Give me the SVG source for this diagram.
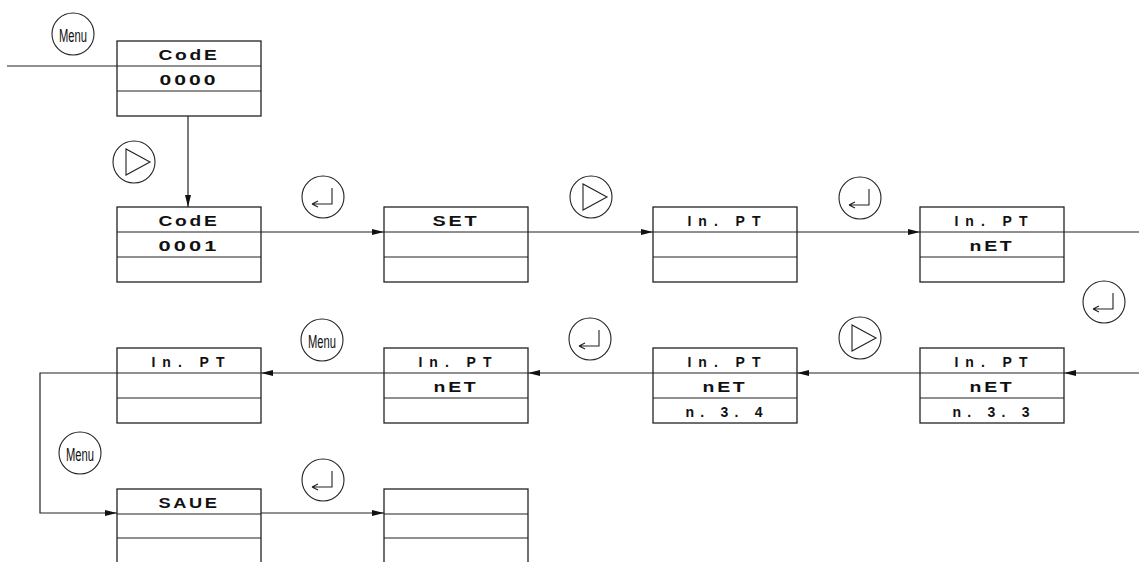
<svg xmlns="http://www.w3.org/2000/svg" width="1139" height="562" viewBox="0 0 1139 562">
<defs>
<style>
.box{fill:#fff;stroke:#222;stroke-width:1.3}
.div{stroke:#222;stroke-width:1.2}
.lbl{font-family:"Liberation Sans",Arial,sans-serif;font-size:14px;font-weight:bold;letter-spacing:2px;fill:#111;text-anchor:middle}
.con{fill:none;stroke:#222;stroke-width:1.2}
.ic{fill:#fff;stroke:#222;stroke-width:1.1}
.sym{fill:none;stroke:#222;stroke-width:1.1}
.mt{font-family:"Liberation Sans",Arial,sans-serif;font-size:18px;fill:#111;text-anchor:middle}
</style>
<marker id="ah" markerUnits="userSpaceOnUse" markerWidth="12" markerHeight="6" refX="12" refY="3" orient="auto">
<path d="M0,0 L12,3 L0,6 z" fill="#111"/>
</marker>
<g id="play"><circle class="ic" r="21"/><path class="sym" d="M-8,-13 L-8,13 L16,0 z"/></g>
<g id="enter"><circle class="ic" r="21"/><path class="sym" d="M9,-9 V7 H-11 M-11,7 L-5,4 M-11,7 L-5,10"/></g>
<g id="menu"><circle class="ic" r="21"/><text class="mt" y="8" textLength="28" lengthAdjust="spacingAndGlyphs">Menu</text></g>
</defs>
<rect width="1139" height="562" fill="#fff"/>

<g id="connectors">
<path class="con" d="M7,66 H117"/>
<path class="con" d="M188,116 V207" marker-end="url(#ah)"/>
<path class="con" d="M261,232 H384" marker-end="url(#ah)"/>
<path class="con" d="M528,232 H653" marker-end="url(#ah)"/>
<path class="con" d="M797,232 H920" marker-end="url(#ah)"/>
<path class="con" d="M1064,232 H1139"/>
<path class="con" d="M1139,373 H1064" marker-end="url(#ah)"/>
<path class="con" d="M920,373 H797" marker-end="url(#ah)"/>
<path class="con" d="M653,373 H528" marker-end="url(#ah)"/>
<path class="con" d="M384,373 H261" marker-end="url(#ah)"/>
<path class="con" d="M117,373 H40 V513 H117" marker-end="url(#ah)"/>
<path class="con" d="M261,513 H384" marker-end="url(#ah)"/>
</g>

<g id="n-code0000">
<rect class="box" x="117" y="41" width="144" height="75"/>
<path class="div" d="M117,66 H261 M117,91 H261"/>
<text class="lbl" x="189" y="60" textLength="61" lengthAdjust="spacingAndGlyphs">CodE</text>
<text class="lbl" x="189" y="85" textLength="59" lengthAdjust="spacingAndGlyphs">0000</text>
</g>
<g id="n-code0001">
<rect class="box" x="117" y="207" width="144" height="75"/>
<path class="div" d="M117,232 H261 M117,257 H261"/>
<text class="lbl" x="189" y="226" textLength="61" lengthAdjust="spacingAndGlyphs">CodE</text>
<text class="lbl" x="189" y="251" textLength="61" lengthAdjust="spacingAndGlyphs">0001</text>
</g>
<g id="n-set">
<rect class="box" x="384" y="207" width="144" height="75"/>
<path class="div" d="M384,232 H528 M384,257 H528"/>
<text class="lbl" x="456" y="226" textLength="47" lengthAdjust="spacingAndGlyphs">SET</text>
</g>
<g id="n-inpt1">
<rect class="box" x="653" y="207" width="144" height="75"/>
<path class="div" d="M653,232 H797 M653,257 H797"/>
<text class="lbl" x="725" y="226" textLength="75" lengthAdjust="spacing">In. PT</text>
</g>
<g id="n-inpt-net1">
<rect class="box" x="920" y="207" width="144" height="75"/>
<path class="div" d="M920,232 H1064 M920,257 H1064"/>
<text class="lbl" x="992" y="226" textLength="75" lengthAdjust="spacing">In. PT</text>
<text class="lbl" x="992" y="251" textLength="45" lengthAdjust="spacingAndGlyphs">nET</text>
</g>

<g id="n-inpt-net-n33">
<rect class="box" x="920" y="348" width="144" height="75"/>
<path class="div" d="M920,373 H1064 M920,398 H1064"/>
<text class="lbl" x="992" y="367" textLength="75" lengthAdjust="spacing">In. PT</text>
<text class="lbl" x="992" y="392" textLength="45" lengthAdjust="spacingAndGlyphs">nET</text>
<text class="lbl" x="992" y="417" textLength="79" lengthAdjust="spacing">n. 3. 3</text>
</g>
<g id="n-inpt-net-n34">
<rect class="box" x="653" y="348" width="144" height="75"/>
<path class="div" d="M653,373 H797 M653,398 H797"/>
<text class="lbl" x="725" y="367" textLength="75" lengthAdjust="spacing">In. PT</text>
<text class="lbl" x="725" y="392" textLength="45" lengthAdjust="spacingAndGlyphs">nET</text>
<text class="lbl" x="725" y="417" textLength="79" lengthAdjust="spacing">n. 3. 4</text>
</g>
<g id="n-inpt-net2">
<rect class="box" x="384" y="348" width="144" height="75"/>
<path class="div" d="M384,373 H528 M384,398 H528"/>
<text class="lbl" x="456" y="367" textLength="75" lengthAdjust="spacing">In. PT</text>
<text class="lbl" x="456" y="392" textLength="45" lengthAdjust="spacingAndGlyphs">nET</text>
</g>
<g id="n-inpt2">
<rect class="box" x="117" y="348" width="144" height="75"/>
<path class="div" d="M117,373 H261 M117,398 H261"/>
<text class="lbl" x="189" y="367" textLength="75" lengthAdjust="spacing">In. PT</text>
</g>

<g id="n-saue">
<rect class="box" x="117" y="489" width="144" height="80"/>
<path class="div" d="M117,514 H261 M117,538 H261"/>
<text class="lbl" x="189" y="508" textLength="61" lengthAdjust="spacingAndGlyphs">SAUE</text>
</g>
<g id="n-blank">
<rect class="box" x="384" y="489" width="144" height="80"/>
<path class="div" d="M384,514 H528 M384,538 H528"/>
</g>

<g id="icons">
<use href="#menu" x="73" y="34"/>
<use href="#play" x="134" y="162"/>
<use href="#enter" x="323" y="197"/>
<use href="#play" x="591" y="197"/>
<use href="#enter" x="860" y="198"/>
<use href="#enter" x="1104" y="302"/>
<use href="#play" x="860" y="338"/>
<use href="#enter" x="590" y="339"/>
<use href="#menu" x="322" y="340"/>
<use href="#menu" x="80" y="453"/>
<use href="#enter" x="323" y="480"/>
</g>
</svg>
